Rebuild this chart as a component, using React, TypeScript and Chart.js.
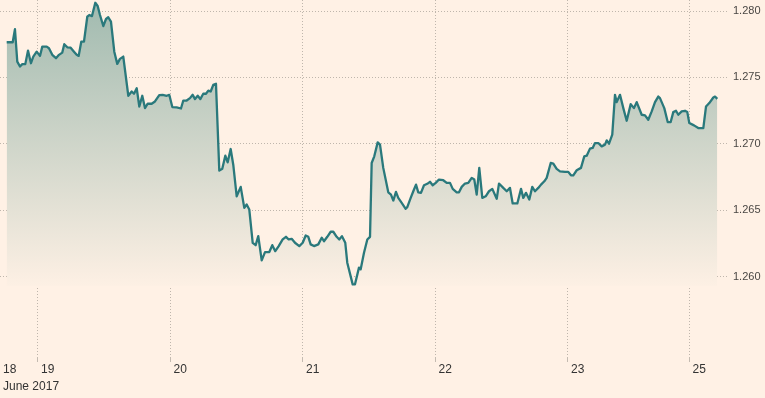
import React, { useEffect, useRef } from "react";
import { Chart, registerables } from "chart.js";

Chart.register(...registerables);

// x = trading hours counted from 18 June 00:00 (weekend gap removed)
const hours = [
  18.33, 19.42, 19.83, 20.25, 20.74, 21.16, 21.70, 22.19, 22.73, 23.15,
  23.76, 24.36, 24.78, 25.58, 25.99, 26.59, 27.26, 27.80, 28.40, 28.76,
  29.31, 29.92, 30.52, 31.01, 31.37, 31.84, 32.33, 32.93, 33.29, 33.78,
  34.38, 34.81, 35.23, 35.83, 36.32, 36.73, 37.22, 37.82, 38.36, 38.85,
  39.45,
  40.36, 40.97, 41.39, 41.88, 42.35, 42.89, 43.38, 43.87, 44.59, 45.19,
  45.97, 46.59, 47.31, 47.78, 48.33, 49.12, 49.90, 50.32, 50.93, 51.53,
  52.02, 52.44, 52.93, 53.40, 53.94, 54.43, 54.85, 55.28, 55.75, 56.24,
  56.84, 57.38, 57.93, 58.36, 58.90, 59.37, 59.99, 60.72, 61.37, 61.80,
  62.27, 62.89, 63.43, 63.90, 64.52, 65.12, 65.90, 66.44, 66.98, 67.60,
  68.32, 68.92, 69.41, 69.95, 70.55, 71.33, 71.95, 72.49, 72.96, 73.39,
  73.99, 74.77, 75.39, 75.80, 76.40, 77.02, 77.49, 78.10, 78.57, 79.06,
  79.66, 80.02, 81.00, 81.42, 82.14, 82.45, 83.05, 83.65, 84.14,
  84.44, 84.91, 85.53, 85.95, 86.54, 87.45, 87.94, 88.36, 88.84, 89.26,
  89.88, 90.60, 90.89, 91.51, 91.98, 92.47, 92.88, 93.37, 93.92, 94.51,
  95.00, 95.49, 96.04, 96.63, 97.41, 98.03, 98.63, 99.12, 99.84, 100.26,
  100.75, 101.34, 101.94, 102.56, 103.03, 103.46, 103.93, 104.48, 105.09, 105.69,
  106.29, 107.09, 107.50, 108.28, 108.90, 109.49, 109.98, 110.82, 111.49, 111.90,
  112.39, 112.99, 113.53, 114.02, 114.62, 115.11, 115.71, 116.14, 116.87, 117.34,
  117.95, 118.55, 119.46, 120.05, 120.54, 120.96, 121.58, 122.35, 122.95, 123.39,
  123.98, 124.47, 124.89, 125.49, 126.10, 126.70, 127.01, 127.43, 128.02,
  128.51, 128.82, 129.42, 130.02, 130.63, 131.36, 131.95, 132.44, 133.35, 133.95,
  134.54, 135.16, 135.76, 136.35, 136.66, 137.44, 138.06, 138.60, 139.07, 139.56,
  139.98, 140.59, 141.19, 141.61, 141.97, 142.82, 143.60, 144.51, 145.00, 145.59,
  146.32, 146.63, 147.04,
];

const prices = [
  1.27765, 1.27765, 1.27863, 1.27619, 1.27582, 1.27600, 1.27600, 1.27702, 1.27607, 1.27657,
  1.27694, 1.27662, 1.27732, 1.27732, 1.27720, 1.27670, 1.27645, 1.27670, 1.27687, 1.27750,
  1.27727, 1.27724, 1.27694, 1.27670, 1.27662, 1.27769, 1.27769, 1.27957, 1.27970, 1.27962,
  1.28062, 1.28038, 1.27970, 1.27887, 1.27940, 1.27953, 1.27920, 1.27694, 1.27602, 1.27640,
  1.27657,
  1.27362, 1.27394, 1.27377, 1.27419, 1.27281, 1.27362, 1.27269, 1.27302, 1.27302, 1.27319,
  1.27367, 1.27369, 1.27362, 1.27369, 1.27277, 1.27274, 1.27266, 1.27326, 1.27326, 1.27344,
  1.27369, 1.27337, 1.27362, 1.27337, 1.27377, 1.27377, 1.27401, 1.27394, 1.27444, 1.27452,
  1.26798, 1.26813, 1.26911, 1.26861, 1.26961, 1.26843, 1.26605, 1.26676, 1.26518, 1.26543,
  1.26506, 1.26255, 1.26237, 1.26305, 1.26123, 1.26185, 1.26185, 1.26237, 1.26192, 1.26230,
  1.26280, 1.26300, 1.26280, 1.26285, 1.26255, 1.26230, 1.26255, 1.26310, 1.26300, 1.26243,
  1.26230, 1.26243, 1.26293, 1.26267, 1.26300, 1.26338, 1.26338, 1.26300, 1.26280, 1.26305,
  1.26255, 1.26105, 1.25942, 1.25942, 1.26068, 1.26055, 1.26180, 1.26280, 1.26300,
  1.26856, 1.26906, 1.27011, 1.26994, 1.26819, 1.26635, 1.26618, 1.26573, 1.26638, 1.26593,
  1.26556, 1.26511, 1.26523, 1.26593, 1.26643, 1.26693, 1.26635, 1.26631, 1.26688, 1.26699,
  1.26714, 1.26688, 1.26706, 1.26731, 1.26726, 1.26706, 1.26706, 1.26661, 1.26635, 1.26635,
  1.26676, 1.26701, 1.26706, 1.26744, 1.26731, 1.26618, 1.26819, 1.26593, 1.26605, 1.26643,
  1.26661, 1.26586, 1.26701, 1.26668, 1.26643, 1.26668, 1.26551, 1.26551, 1.26661, 1.26593,
  1.26631, 1.26581, 1.26676, 1.26643, 1.26668, 1.26693, 1.26718, 1.26744, 1.26856, 1.26851,
  1.26811, 1.26793, 1.26789, 1.26789, 1.26763, 1.26763, 1.26801, 1.26819, 1.26906, 1.26911,
  1.26964, 1.26969, 1.27006, 1.27006, 1.26981, 1.26994, 1.27026, 1.27001, 1.27069,
  1.27369, 1.27314, 1.27369, 1.27269, 1.27174, 1.27299, 1.27269, 1.27314, 1.27219, 1.27214,
  1.27181, 1.27244, 1.27314, 1.27356, 1.27344, 1.27269, 1.27164, 1.27164, 1.27239, 1.27249,
  1.27219, 1.27244, 1.27249, 1.27239, 1.27157, 1.27139, 1.27119, 1.27119, 1.27281, 1.27307,
  1.27349, 1.27356, 1.27339,
];

const xMin = 17.12;
const xMax = 148.8;
const yMin = 1.25395;
const yMax = 1.28083;
const fillBase = 1.2593;

const yTicks = [1.26, 1.265, 1.27, 1.275, 1.28];
const xTickHours = [17.12, 24, 48, 72, 96, 120, 142];
const xTickLabels = ["18", "19", "20", "21", "22", "23", "25"];
const monthLabel = "June 2017";

const BG = "#fff1e5";
const LINE = "#2a797c";
const GRID = "#bfb6ac";

export default function App() {
  const canvasRef = useRef<HTMLCanvasElement | null>(null);

  useEffect(() => {
    document.body.style.margin = "0";
    document.body.style.background = BG;
    const canvas = canvasRef.current;
    if (!canvas) return;
    const data = hours.map((h, i) => ({ x: h, y: prices[i] }));

    const chart = new Chart(canvas, {
      type: "line",
      data: {
        datasets: [
          {
            data,
            borderColor: LINE,
            borderWidth: 2.3,
            borderJoinStyle: "round",
            pointRadius: 0,
            tension: 0,
            fill: { value: fillBase },
            backgroundColor: (ctx: any) => {
              const c = ctx.chart;
              if (!c.chartArea) return "rgba(0,0,0,0)";
              const top = c.scales.y.getPixelForValue(yMax);
              const bottom = c.scales.y.getPixelForValue(fillBase);
              const g = c.ctx.createLinearGradient(0, top, 0, bottom);
              g.addColorStop(0, "rgb(160,186,175)");
              g.addColorStop(1, "rgb(253,240,228)");
              return g;
            },
          },
        ],
      },
      options: {
        responsive: false,
        animation: false,
        devicePixelRatio: 1,
        layout: { padding: 0 },
        plugins: {
          legend: { display: false },
          tooltip: { enabled: false },
        },
        scales: {
          x: {
            type: "linear",
            min: xMin,
            max: xMax,
            position: "bottom",
            afterBuildTicks: (scale: any) => {
              scale.ticks = xTickHours.map((v) => ({ value: v }));
            },
            afterFit: (scale: any) => {
              scale.height = 41;
              scale.paddingLeft = 0;
              scale.paddingRight = 0;
            },
            border: { display: false, dash: [1, 2] },
            grid: {
              color: (ctx: any) => (ctx.index === 0 ? "rgba(0,0,0,0)" : GRID),
              tickColor: (ctx: any) => (ctx.index === 0 ? "rgba(0,0,0,0)" : "#c4bbb1"),
              lineWidth: 1,
              tickBorderDash: [],
              tickLength: 5,
              drawTicks: true,
            },
            ticks: {
              autoSkip: false,
              maxRotation: 0,
              align: "start",
              labelOffset: 3,
              padding: 0,
              color: "#333333",
              font: { family: "'Liberation Sans Narrow', 'Liberation Sans', Arial, sans-serif", size: 12, lineHeight: 1.35 },
              callback: (_v: any, i: number) =>
                i === 0 ? [xTickLabels[0], monthLabel] : xTickLabels[i],
            },
          },
          y: {
            type: "linear",
            position: "right",
            min: yMin,
            max: yMax,
            afterBuildTicks: (scale: any) => {
              scale.ticks = yTicks.map((v) => ({ value: v }));
            },
            afterFit: (scale: any) => {
              scale.width = 38;
              scale.paddingTop = 0;
              scale.paddingBottom = 0;
            },
            border: { display: false, dash: [1, 2] },
            grid: {
              color: GRID,
              lineWidth: 1,
              drawTicks: false,
            },
            ticks: {
              padding: 6,
              color: "#4a4744",
              font: { family: "'Liberation Sans', Arial, sans-serif", size: 11 },
              callback: (v: any) => Number(v).toFixed(3),
            },
          },
        },
      },
    });
    return () => chart.destroy();
  }, []);

  return (
    <div style={{ position: "absolute", left: 0, top: 0, width: 765, height: 398, background: BG }}>
      <canvas ref={canvasRef} width={765} height={398} style={{ display: "block", width: 765, height: 398 }} />
    </div>
  );
}
